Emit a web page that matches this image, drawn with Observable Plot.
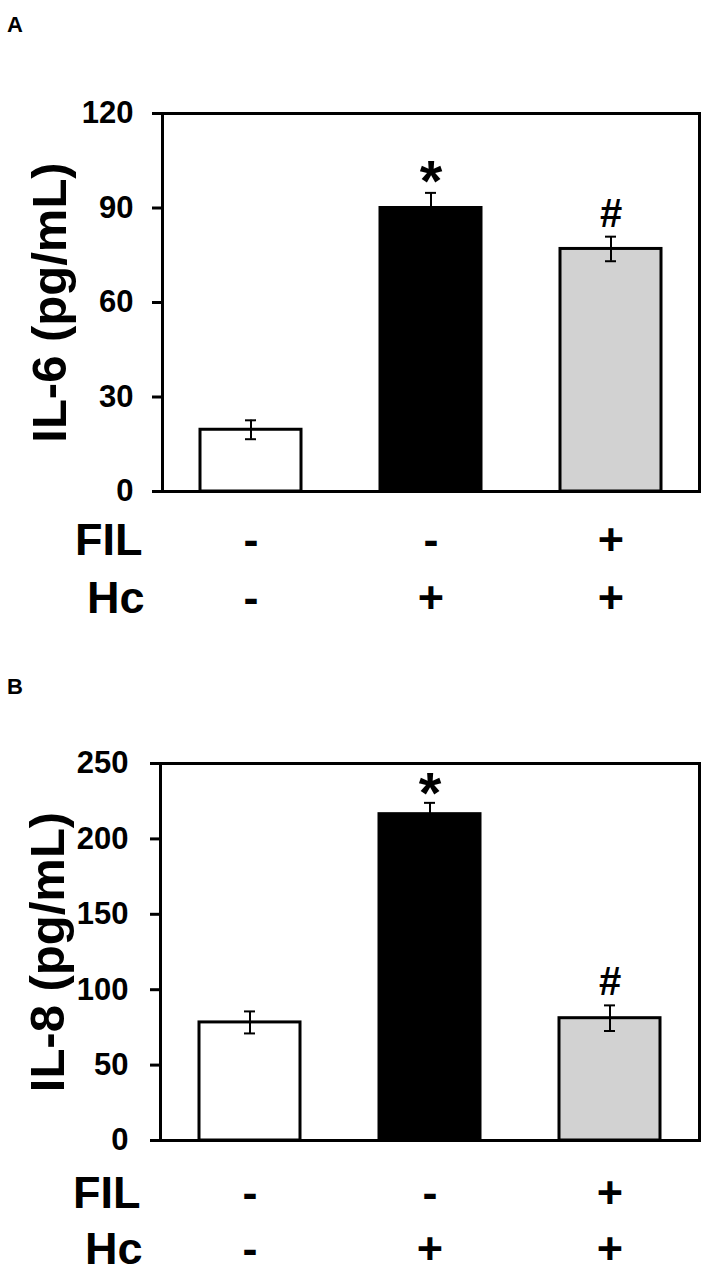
<!DOCTYPE html>
<html>
<head>
<meta charset="utf-8">
<script src="https://cdn.jsdelivr.net/npm/d3@7"></script>
<script src="https://cdn.jsdelivr.net/npm/@observablehq/plot@0.6"></script>
<style>
  html, body { margin: 0; padding: 0; background: #fff; }
  #wrap { position: relative; width: 708px; height: 1273px; overflow: hidden; font-family: "Liberation Sans", Arial, sans-serif; }
  .panel { position: absolute; left: 0; }
  .letter { position: absolute; left: 7px; font-weight: bold; font-size: 22px; line-height: 1; z-index: 2; font-family: "Liberation Sans", Arial, sans-serif; }
</style>
</head>
<body>
<div id="wrap">
  <div id="pa" class="panel" style="top:0px"></div>
  <div id="pb" class="panel" style="top:636px"></div>
  <div class="letter" style="top:14px">A</div>
  <div class="letter" style="top:676px">B</div>
</div>
<script>
// ---- data ----
const categories = ["Control", "Hc", "FIL + Hc"];
const filRow = ["-", "-", "+"];
const hcRow = ["-", "+", "+"];
const il6 = [19.6, 90.0, 77.0];
const il6Err = [3.0, 4.8, 3.9];
const il8 = [78.3, 216.4, 81.1];
const il8Err = [7.3, 7.5, 8.5];
const significance = ["", "*", "#"];
const il6Ticks = [0, 30, 60, 90, 120];
const il8Ticks = [0, 50, 100, 150, 200, 250];

// ---- styles ----
const barFills = ["#ffffff", "#000000", "#d2d2d2"];
const FONT = '"Liberation Sans", Arial, sans-serif';

function panel(opts) {
  const rows = categories.map((c, i) => ({
    cat: c, v: opts.values[i], e: opts.errs[i], sig: significance[i]
  }));
  return Plot.plot({
    width: 708,
    height: opts.height,
    marginTop: opts.marginTop,
    marginBottom: opts.marginBottom,
    marginLeft: opts.marginLeft,
    marginRight: opts.marginRight,
    style: { fontFamily: FONT, fontWeight: "bold", color: "black", background: "white" },
    x: { domain: categories, paddingInner: 0.44, paddingOuter: 0.21, axis: null },
    y: { domain: [opts.ticks[0], opts.ticks[opts.ticks.length - 1]], axis: null },
    color: { domain: categories, range: barFills },
    marks: [
      Plot.barY(rows, { x: "cat", y: "v", fill: "cat", stroke: "black", strokeWidth: 3 }),
      Plot.ruleX(rows, { x: "cat", y1: d => d.v - d.e, y2: d => d.v + d.e, stroke: "black", strokeWidth: 2 }),
      Plot.tickY(rows, { x: "cat", y: d => d.v + d.e, stroke: "black", strokeWidth: 2, insetLeft: 45, insetRight: 45 }),
      Plot.tickY(rows, { x: "cat", y: d => d.v - d.e, stroke: "black", strokeWidth: 2, insetLeft: 45, insetRight: 45 }),
      Plot.text(rows.filter(d => d.sig === "*"), { x: "cat", y: d => d.v + d.e, text: "sig", fontSize: 58, fontWeight: "bold", lineAnchor: "bottom", dy: opts.starDy, fill: "black" }),
      Plot.text(rows.filter(d => d.sig === "#"), { x: "cat", y: d => d.v + d.e, text: "sig", fontSize: 40, fontWeight: "bold", lineAnchor: "bottom", dy: -10, fill: "black" }),
      Plot.axisY({ ticks: opts.ticks, tickSize: 10, tickPadding: opts.tickPadding, strokeWidth: 3, fontSize: 31, fontWeight: "bold", label: null }),
      Plot.frame({ stroke: "black", strokeWidth: 3 }),
      Plot.text([opts.label], { frameAnchor: "left", rotate: -90, dx: opts.labelDx, textAnchor: "middle", lineAnchor: "middle", fontSize: 49, fontWeight: "bold", fill: "black" }),
      Plot.axisX({ tickFormat: (d) => filRow[categories.indexOf(d)], tickSize: 0, tickPadding: opts.filPad, fontSize: 45, fontWeight: "bold", label: null }),
      Plot.axisX({ tickFormat: (d) => hcRow[categories.indexOf(d)], tickSize: 0, tickPadding: opts.hcPad, fontSize: 45, fontWeight: "bold", label: null }),
      Plot.text(["FIL"], { frameAnchor: "bottom-left", dx: -20, dy: opts.filPad, textAnchor: "end", lineAnchor: "top", fontSize: 45, fontWeight: "bold", fill: "black" }),
      Plot.text(["Hc"], { frameAnchor: "bottom-left", dx: -18, dy: opts.hcPad, textAnchor: "end", lineAnchor: "top", fontSize: 45, fontWeight: "bold", fill: "black" })
    ]
  });
}

document.getElementById("pa").appendChild(panel({
  values: il6, errs: il6Err, ticks: il6Ticks, label: "IL-6 (pg/mL)",
  height: 636, marginTop: 113, marginBottom: 145, marginLeft: 162, marginRight: 9,
  tickPadding: 19, labelDx: -112, filPad: 32, hcPad: 90, starDy: 8
}));
document.getElementById("pb").appendChild(panel({
  values: il8, errs: il8Err, ticks: il8Ticks, label: "IL-8 (pg/mL)",
  height: 637, marginTop: 127, marginBottom: 133, marginLeft: 160, marginRight: 9,
  tickPadding: 22, labelDx: -112, filPad: 36, hcPad: 92, starDy: 10
}));
</script>
</body>
</html>
